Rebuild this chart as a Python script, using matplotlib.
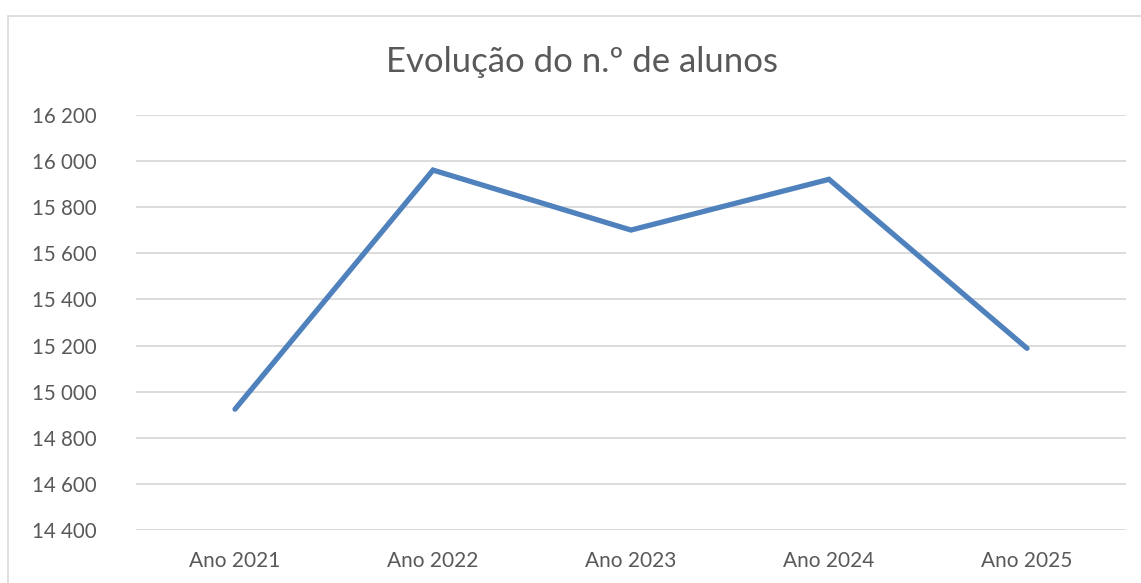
import matplotlib.pyplot as plt
from matplotlib.patches import Rectangle
from matplotlib.ticker import FuncFormatter

anos = ['Ano 2021', 'Ano 2022', 'Ano 2023', 'Ano 2024', 'Ano 2025']
alunos = [14924, 15961, 15701, 15921, 15188]
y_ticks = [14400, 14600, 14800, 15000, 15200, 15400, 15600, 15800, 16000, 16200]

plt.rcParams['font.family'] = ['Lato', 'DejaVu Sans']
txt = '#595959'
grid = '#d9d9d9'

fig = plt.figure(figsize=(11.41, 5.83), dpi=100)
ax = fig.add_axes([136 / 1141, 53 / 583, 990 / 1141, 415 / 583])

# chart border (only left and top visible in the crop)
fig.patches.append(Rectangle((8 / 1141, -0.1), 1.2, (583 - 16) / 583 + 0.1,
                             transform=fig.transFigure, fill=False,
                             edgecolor='#d9d9d9', linewidth=1.2))

x = range(len(anos))
ax.plot(x, alunos, color='#4f81bd', linewidth=3.8, solid_capstyle='round',
        solid_joinstyle='miter', zorder=3)

ax.set_xlim(-0.5, len(anos) - 0.5)
ax.set_ylim(y_ticks[0], y_ticks[-1])
ax.set_yticks(y_ticks)
ax.yaxis.set_major_formatter(FuncFormatter(lambda v, p: f'{int(v):,}'.replace(',', ' ')))
ax.set_xticks(list(x))
ax.set_xticklabels(anos)

ax.grid(axis='y', color=grid, linewidth=1.3)
ax.set_axisbelow(True)
for s in ax.spines.values():
    s.set_visible(False)
ax.tick_params(axis='y', length=0, pad=28, labelsize=14.8, labelcolor=txt)
ax.tick_params(axis='x', length=0, pad=15, labelsize=15, labelcolor=txt)

fig.text(582 / 1141, 1 - 62 / 583, 'Evolução do n.º de alunos', ha='center', va='center',
         fontsize=25, color=txt)

fig.savefig('out.png', dpi=100)
